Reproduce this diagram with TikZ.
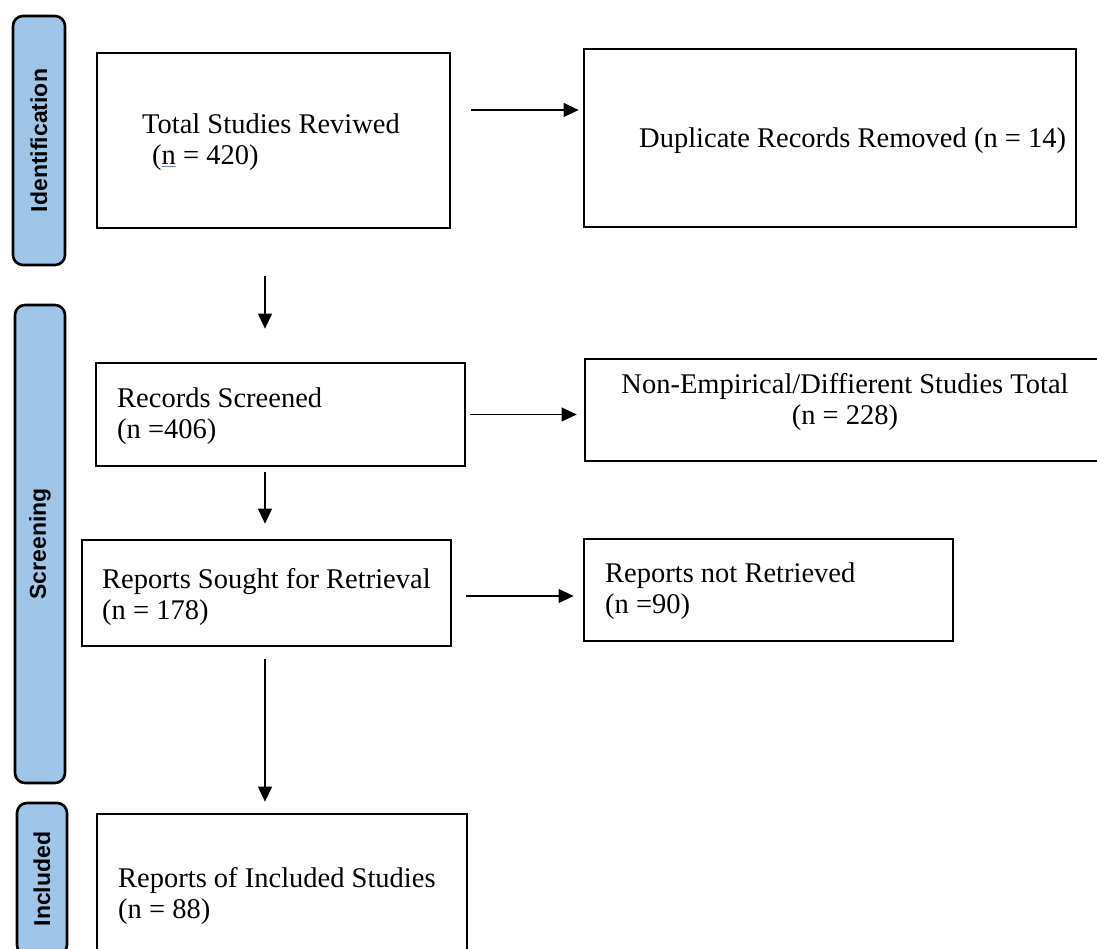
\documentclass[tikz,border=0pt]{standalone}
\usepackage{fontspec}
\setmainfont{Liberation Serif}
\newfontfamily\phasefont{Liberation Sans}
\usetikzlibrary{arrows.meta}

\definecolor{phaseblue}{RGB}{159,197,232}
\definecolor{spellblue}{RGB}{110,130,200}

\begin{document}
\begin{tikzpicture}[x = 1pt, y = -1pt, > = {Triangle[length = 15pt, width = 14pt]},
	box/.style = {draw, line width = 2.7pt, inner sep = 0pt},
	phase/.style = {draw, line width = 2.6pt, fill = phaseblue, rounded corners = 10pt, rotate = 90, inner sep = 0pt, font = \phasefont\bfseries\fontsize{23}{25}\selectfont},
	txt/.style = {inner sep = 0pt, anchor = west, align = left, font = \fontsize{28.5}{31}\selectfont},
	arr/.style = {->, line width = 1.1pt}]

	\useasboundingbox (0, 0) rectangle (1097, 949);
	\clip (0, 0) rectangle (1097, 949);

	% Phases
	
	\node [phase, minimum width = 249pt, minimum height = 52pt] (ident) at (39, 140.5) {Identification};
	\node [phase, minimum width = 478pt, minimum height = 50pt] (screen) at (40, 544) {Screening};
	\node [phase, minimum width = 152pt, minimum height = 50pt] (incl) at (42, 879) {Included};
	
	% Boxes
	
	\node [box, minimum width = 353pt, minimum height = 175pt] (total) at (273.5, 140.5) {};
	\node [box, minimum width = 492pt, minimum height = 178pt] (dup) at (830, 138) {};
	\node [box, minimum width = 369pt, minimum height = 103pt] (screened) at (280.5, 414.5) {};
	\node [box, minimum width = 520pt, minimum height = 102pt] (nonemp) at (845, 410) {};
	\node [box, minimum width = 369pt, minimum height = 106pt] (sought) at (266.5, 593) {};
	\node [box, minimum width = 369pt, minimum height = 102pt] (notret) at (768.5, 590) {};
	\node [box, minimum width = 370pt, minimum height = 162pt] (included) at (282, 895) {};
	
	% Texts
	
	\node [txt] (total-txt) at (142, 142) {Total Studies Reviwed\\\hspace*{10pt}({\color{spellblue}\underline{\color{black}n}} = 420)};
	\node [txt] (dup-txt) at (639, 141) {Duplicate Records Removed (n = 14)};
	\node [txt] (screened-txt) at (117, 416) {Records Screened\\(n =406)};
	\node [txt, anchor = center, align = center] (nonemp-txt) at (845, 402) {Non-Empirical/Diffierent Studies Total\\(n = 228)};
	\node [txt] (sought-txt) at (102, 596.5) {Reports Sought for Retrieval\\(n = 178)};
	\node [txt] (notret-txt) at (605, 591.5) {Reports not Retrieved\\(n =90)};
	\node [txt] (included-txt) at (118, 896) {Reports of Included Studies\\(n = 88)};
	
	% Arrows
	
	\coordinate (r1) at ([yshift = 30.5pt] total.east);
	\coordinate (r3) at ([yshift = -3pt] sought.east);
	\coordinate (d1) at ([xshift = -8.5pt] total.south);
	\coordinate (d2) at ([xshift = -15.5pt] screened.south);
	\coordinate (d3) at ([xshift = -1.5pt] sought.south);
	
	\draw [arr, shorten <= 20pt, shorten >= 4pt] (r1) -- (r1 -| dup.west);
	\draw [arr, shorten <= 4pt, shorten >= 7pt] (screened.east) -- (screened.east -| nonemp.west);
	\draw [arr, shorten <= 14pt, shorten >= 9pt] (r3) -- (r3 -| notret.west);
	
	\draw [arr, shorten <= 47pt, shorten >= 33pt] (d1) -- (d1 |- screened.north);
	\draw [arr, shorten <= 5pt, shorten >= 15pt] (d2) -- (d2 |- sought.north);
	\draw [arr, shorten <= 12pt, shorten >= 11pt] (d3) -- (d3 |- included.north);
	
\end{tikzpicture}
\end{document}
